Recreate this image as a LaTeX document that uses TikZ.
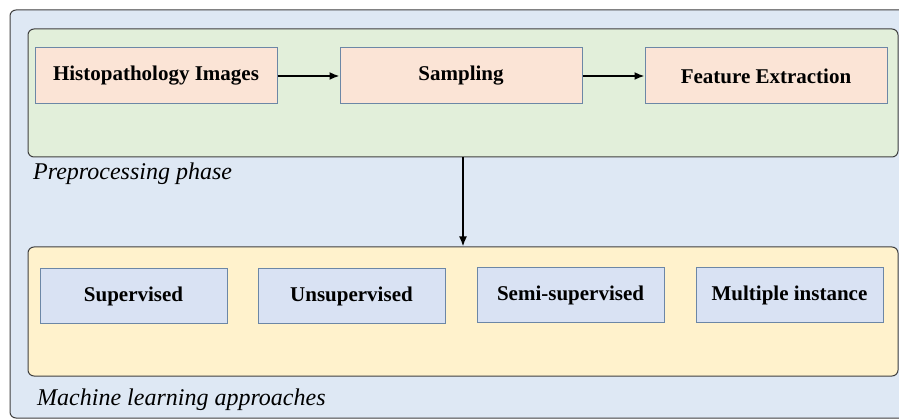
\documentclass[tikz,border=0pt]{standalone}
\usepackage{fontspec}
\setmainfont{Liberation Serif}
\usepackage{tikz}
\usetikzlibrary{arrows.meta,positioning}

\definecolor{outerfill}{HTML}{DEE8F4}
\definecolor{prefill}{HTML}{E2EFDA}
\definecolor{mlfill}{HTML}{FFF2CC}
\definecolor{stepfill}{HTML}{FBE4D6}
\definecolor{approachfill}{HTML}{D9E2F3}
\definecolor{boxedge}{HTML}{6C87A6}

\begin{document}
\begin{tikzpicture}[
  x=1pt, y=-1pt,
  node distance=62pt,
  panel/.style={rectangle, rounded corners=6pt, draw=black!75, line width=1pt, inner sep=0pt},
  stepbox/.style={rectangle, draw=boxedge, line width=1pt, fill=stepfill, minimum width=242pt, minimum height=56pt, font=\fontsize{21}{24}\selectfont\bfseries},
  mlbox/.style={rectangle, draw=boxedge, line width=1pt, fill=approachfill, minimum width=187pt, minimum height=55pt, font=\fontsize{21}{24}\selectfont\bfseries},
  caption/.style={anchor=base west, inner sep=0pt, font=\fontsize{24}{28}\selectfont\itshape},
  line/.style={-{Latex[length=10pt,width=8pt]}, line width=1.8pt}
]
\useasboundingbox (0,0) rectangle (899,419);
\node[panel, fill=outerfill, minimum width=898pt, minimum height=408pt] (outer) at (459,214) {};
\node[panel, fill=prefill, minimum width=870pt, minimum height=128pt] (prep) at (463,93) {};
\node[panel, fill=mlfill, minimum width=870pt, minimum height=129pt] (ml) at (463,311.5) {};

\node[stepbox] (images) at (156,76) {Histopathology Images};
\node[stepbox, right=of images] (sampling) {Sampling};
\node[stepbox, right=of sampling] (features) {Feature Extraction};
\node[caption] (preplabel) at (33,180) {Preprocessing phase};

\node[mlbox] (supervised) at (133.5,296.5) {Supervised};
\node[mlbox, right=30pt of supervised] (unsupervised) {Unsupervised};
\node[mlbox, right=31pt of unsupervised, yshift=1pt] (semi) {Semi-supervised};
\node[mlbox, right=31pt of semi] (multiple) {Multiple instance};
\node[caption] (mllabel) at (37,405) {Machine learning approaches};

\draw[line] (images) -- (sampling);
\draw[line] (sampling) -- (features);
\draw[line] (prep) -- (ml);
\end{tikzpicture}
\end{document}
